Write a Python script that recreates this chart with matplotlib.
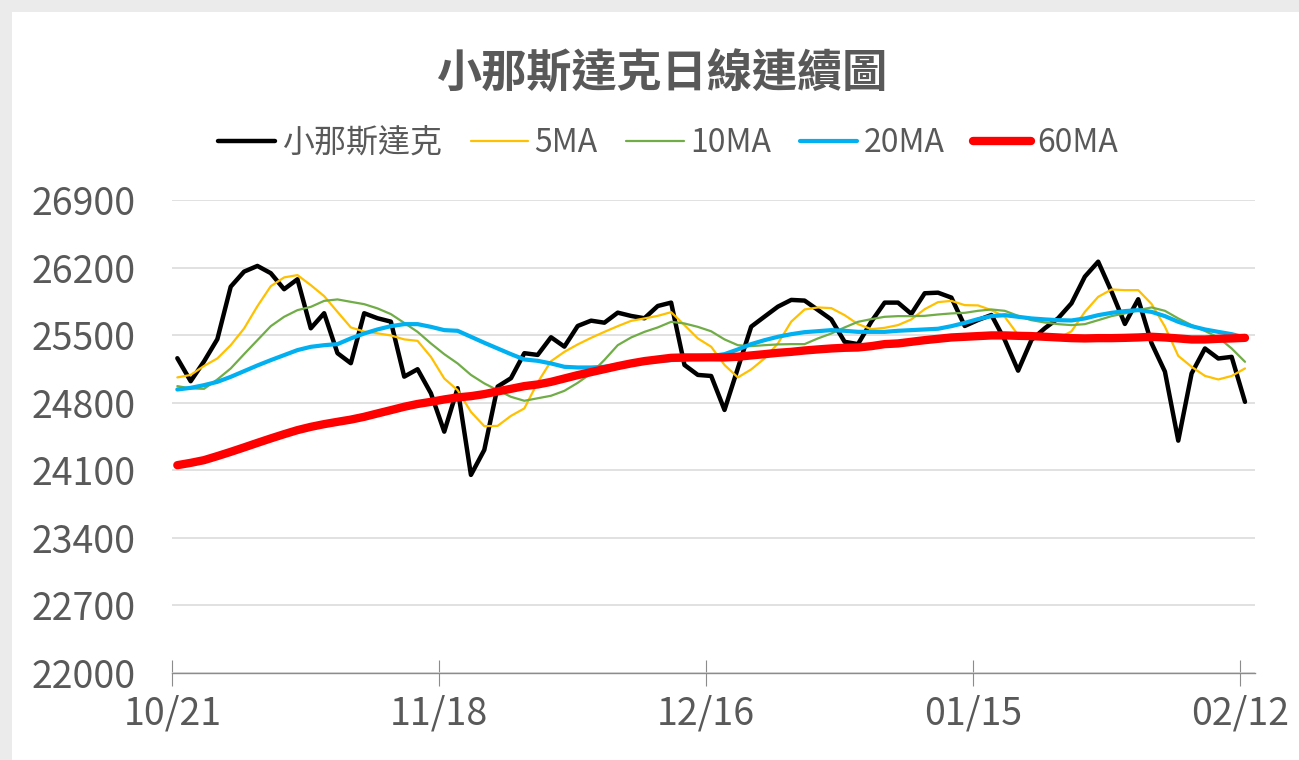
import matplotlib
matplotlib.use("Agg")
import matplotlib.pyplot as plt
import numpy as np

plt.rcParams["font.family"] = ["Noto Sans CJK TC", "DejaVu Sans"]

# ── Data ──
close = [25261, 25023, 25228, 25459, 26002, 26158, 26217, 26142, 25976, 26079,
         25571, 25727, 25313, 25209, 25727, 25675, 25640, 25070, 25147, 24898,
         24500, 24950, 24052, 24311, 24967, 25054, 25313, 25295, 25478, 25381,
         25595, 25650, 25629, 25733, 25699, 25675, 25802, 25837, 25191, 25088,
         25077, 24725, 25157, 25588, 25692, 25795, 25865, 25858, 25761, 25663,
         25431, 25407, 25640, 25837, 25837, 25720, 25934, 25940, 25889, 25595,
         25657, 25709, 25450, 25132, 25450, 25571, 25675, 25830, 26106, 26261,
         25951, 25616, 25872, 25416, 25122, 24407, 25103, 25362, 25258, 25275, 24809]

ma5 = [25062, 25088, 25181, 25259, 25396, 25569, 25800, 26007, 26098, 26122,
       26018, 25904, 25741, 25580, 25537, 25519, 25497, 25456, 25441, 25275,
       25051, 24930, 24705, 24557, 24560, 24664, 24741, 25010, 25230, 25327,
       25404, 25472, 25534, 25593, 25648, 25673, 25700, 25738, 25604, 25466,
       25380, 25191, 25062, 25145, 25259, 25414, 25640, 25766, 25787, 25780,
       25707, 25614, 25562, 25576, 25604, 25663, 25769, 25842, 25855, 25811,
       25808, 25759, 25690, 25502, 25484, 25466, 25466, 25540, 25741, 25897,
       25973, 25966, 25966, 25823, 25588, 25285, 25172, 25078, 25041, 25077, 25155]

ma10 = [24972, 24948, 24944, 25041, 25155, 25303, 25448, 25593, 25690, 25759,
        25793, 25855, 25870, 25845, 25821, 25777, 25718, 25627, 25534, 25414,
        25303, 25207, 25088, 25000, 24930, 24861, 24820, 24846, 24872, 24923,
        25006, 25103, 25243, 25396, 25476, 25534, 25580, 25638, 25621, 25586,
        25540, 25456, 25396, 25386, 25396, 25404, 25407, 25407, 25466, 25517,
        25580, 25638, 25666, 25690, 25697, 25697, 25700, 25714, 25725, 25731,
        25752, 25766, 25752, 25700, 25655, 25631, 25614, 25604, 25614, 25655,
        25697, 25725, 25759, 25787, 25752, 25673, 25604, 25543, 25476, 25362, 25224]

ma20 = [24937, 24954, 24982, 25016, 25068, 25127, 25186, 25241, 25293, 25345,
        25379, 25396, 25407, 25466, 25517, 25559, 25593, 25614, 25614, 25586,
        25552, 25545, 25483, 25421, 25362, 25303, 25248, 25234, 25207, 25172,
        25165, 25165, 25172, 25191, 25207, 25217, 25231, 25241, 25248, 25259,
        25283, 25303, 25352, 25407, 25448, 25483, 25510, 25531, 25541, 25552,
        25545, 25534, 25534, 25534, 25545, 25552, 25559, 25566, 25593, 25627,
        25666, 25697, 25707, 25690, 25673, 25663, 25655, 25652, 25673, 25707,
        25731, 25749, 25759, 25741, 25697, 25638, 25593, 25559, 25534, 25510, 25476]

ma60 = [24153, 24177, 24205, 24247, 24291, 24337, 24384, 24430, 24474, 24516,
        24550, 24578, 24602, 24625, 24654, 24689, 24723, 24758, 24787, 24809,
        24834, 24855, 24868, 24889, 24917, 24944, 24972, 24989, 25016, 25051,
        25086, 25117, 25148, 25179, 25207, 25231, 25248, 25265, 25269, 25269,
        25270, 25269, 25276, 25290, 25303, 25317, 25327, 25341, 25352, 25362,
        25369, 25372, 25386, 25407, 25414, 25431, 25448, 25462, 25476, 25483,
        25490, 25497, 25497, 25493, 25490, 25483, 25476, 25469, 25466, 25469,
        25469, 25472, 25476, 25483, 25476, 25466, 25455, 25455, 25462, 25466, 25472]

tick_pos = [0, 20, 40, 60, 80]
tick_labels = ["10/21", "11/18", "12/16", "01/15", "02/12"]
y_ticks = [22000, 22700, 23400, 24100, 24800, 25500, 26200, 26900]

series = [
    ("小那斯達克", close, "#000000", 3.2),
    ("5MA", ma5, "#FFC000", 1.6),
    ("10MA", ma10, "#70AD47", 1.6),
    ("20MA", ma20, "#00B0F0", 3.0),
    ("60MA", ma60, "#FF0000", 6.0),
]
TXT = "#595959"

fig = plt.figure(figsize=(12.99, 7.60), dpi=100, facecolor="#ebebeb")
# white chart area (grey band at top and left like the screenshot)
bg = plt.Rectangle((12 / 1299, 0), 1, 1 - 12 / 760, transform=fig.transFigure,
                   facecolor="white", edgecolor="none", zorder=-10)
fig.add_artist(bg)

ax = fig.add_axes([172 / 1299, 87 / 760, 1083 / 1299, 473 / 760])
ax.set_facecolor("none")
ax.set_zorder(1)

x = np.arange(len(close))
for z, (name, vals, col, lw) in enumerate(series):
    ax.plot(x, vals, color=col, linewidth=lw, label=name, zorder=3 + z,
            solid_capstyle="round", solid_joinstyle="round")

ax.set_ylim(22000, 26900)
ax.set_yticks(y_ticks)
ax.set_xlim(-0.4, 80.75)
ax.set_xticks([p - 0.37 for p in tick_pos])
ax.set_xticklabels(tick_labels)

ax.grid(axis="y", color="#d9d9d9", linewidth=1.1, zorder=0)
ax.set_axisbelow(True)
for s in ["top", "left", "right"]:
    ax.spines[s].set_visible(False)
ax.spines["bottom"].set_color("#8c8c8c")
ax.spines["bottom"].set_linewidth(1.0)
ax.tick_params(axis="y", length=0, pad=26, labelsize=27, labelcolor=TXT)
ax.tick_params(axis="x", direction="inout", length=19, width=0.8, color="#8c8c8c",
               pad=6, labelsize=27, labelcolor=TXT)

fig.text(662 / 1299, 1 - 74 / 760, "小那斯達克日線連續圖", ha="center", va="center",
         fontsize=32.5, fontweight="bold", color=TXT)

leg = fig.legend(loc="center", bbox_to_anchor=(668 / 1299, 1 - 143 / 760), ncol=5,
                 frameon=False, fontsize=23, handlelength=1.8, handletextpad=0.2,
                 columnspacing=0.9, labelcolor=TXT)

fig.savefig("out.png", dpi=100, facecolor=fig.get_facecolor())
